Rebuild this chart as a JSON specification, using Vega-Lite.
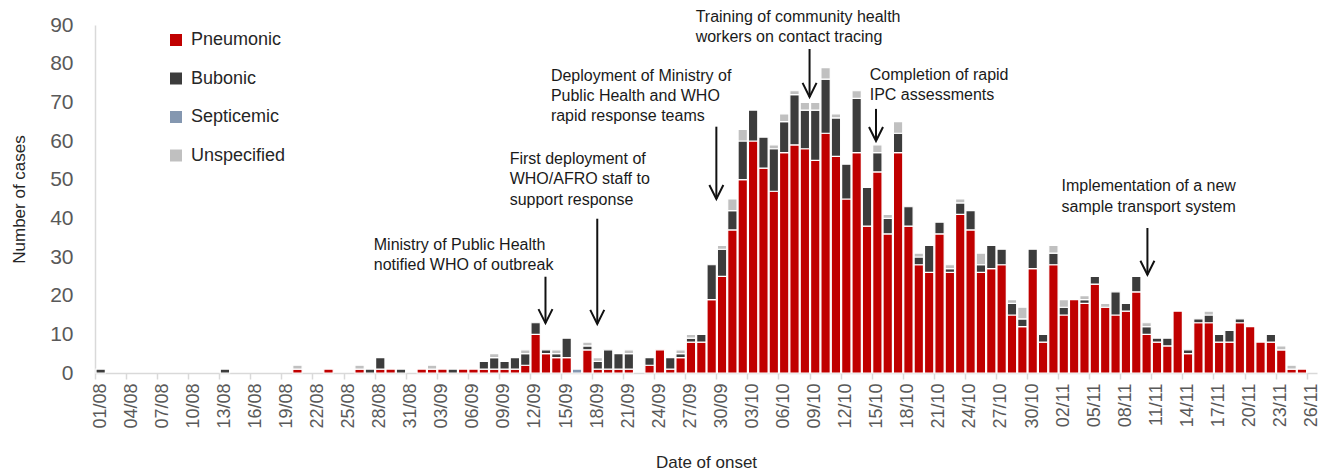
{
  "$schema": "https://vega.github.io/schema/vega-lite/v6.json",
  "width": 1222,
  "height": 348,
  "autosize": {"type": "none"},
  "padding": {"left": 95, "top": 25, "right": 22, "bottom": 103},
  "background": "white",
  "config": {
    "font": "Liberation Sans",
    "view": {"stroke": null}
  },
  "resolve": {"axis": {"x": "independent", "y": "independent"}},
  "layer": [
    {
      "data": {"values": [
        {"d":"2017-08-01","Bubonic":1},
        {"d":"2017-08-13","Bubonic":1},
        {"d":"2017-08-20","Pneumonic":1,"Unspecified":1},
        {"d":"2017-08-23","Pneumonic":1},
        {"d":"2017-08-26","Pneumonic":1,"Unspecified":1},
        {"d":"2017-08-27","Bubonic":1},
        {"d":"2017-08-28","Pneumonic":1,"Bubonic":3},
        {"d":"2017-08-29","Pneumonic":1},
        {"d":"2017-08-30","Bubonic":1},
        {"d":"2017-09-01","Pneumonic":1},
        {"d":"2017-09-02","Pneumonic":1,"Unspecified":1},
        {"d":"2017-09-03","Pneumonic":1},
        {"d":"2017-09-04","Bubonic":1},
        {"d":"2017-09-05","Pneumonic":1},
        {"d":"2017-09-06","Pneumonic":1},
        {"d":"2017-09-07","Pneumonic":1,"Bubonic":2},
        {"d":"2017-09-08","Pneumonic":1,"Bubonic":3,"Unspecified":1},
        {"d":"2017-09-09","Pneumonic":1,"Bubonic":2},
        {"d":"2017-09-10","Pneumonic":1,"Bubonic":3},
        {"d":"2017-09-11","Pneumonic":2,"Bubonic":3,"Unspecified":1},
        {"d":"2017-09-12","Pneumonic":10,"Bubonic":3},
        {"d":"2017-09-13","Pneumonic":5,"Bubonic":1},
        {"d":"2017-09-14","Pneumonic":4,"Bubonic":1,"Unspecified":1},
        {"d":"2017-09-15","Pneumonic":4,"Bubonic":5},
        {"d":"2017-09-16","Septicemic":1},
        {"d":"2017-09-17","Pneumonic":6,"Bubonic":1,"Unspecified":1},
        {"d":"2017-09-18","Pneumonic":1,"Bubonic":2,"Unspecified":1},
        {"d":"2017-09-19","Pneumonic":1,"Bubonic":5},
        {"d":"2017-09-20","Pneumonic":1,"Bubonic":4},
        {"d":"2017-09-21","Pneumonic":1,"Bubonic":4,"Unspecified":1},
        {"d":"2017-09-23","Pneumonic":2,"Bubonic":2},
        {"d":"2017-09-24","Pneumonic":6},
        {"d":"2017-09-25","Pneumonic":1,"Bubonic":3},
        {"d":"2017-09-26","Pneumonic":4,"Bubonic":1,"Unspecified":1},
        {"d":"2017-09-27","Pneumonic":8,"Bubonic":1,"Unspecified":1},
        {"d":"2017-09-28","Pneumonic":8,"Bubonic":2},
        {"d":"2017-09-29","Pneumonic":19,"Bubonic":9},
        {"d":"2017-09-30","Pneumonic":25,"Bubonic":7,"Unspecified":1},
        {"d":"2017-10-01","Pneumonic":37,"Bubonic":5,"Unspecified":3},
        {"d":"2017-10-02","Pneumonic":50,"Bubonic":10,"Unspecified":3},
        {"d":"2017-10-03","Pneumonic":60,"Bubonic":8},
        {"d":"2017-10-04","Pneumonic":53,"Bubonic":8},
        {"d":"2017-10-05","Pneumonic":47,"Bubonic":11,"Unspecified":1},
        {"d":"2017-10-06","Pneumonic":57,"Bubonic":8,"Unspecified":2},
        {"d":"2017-10-07","Pneumonic":59,"Bubonic":13,"Unspecified":1},
        {"d":"2017-10-08","Pneumonic":58,"Bubonic":10,"Unspecified":2},
        {"d":"2017-10-09","Pneumonic":55,"Bubonic":13,"Unspecified":2},
        {"d":"2017-10-10","Pneumonic":62,"Bubonic":14,"Unspecified":3},
        {"d":"2017-10-11","Pneumonic":56,"Bubonic":10,"Unspecified":1},
        {"d":"2017-10-12","Pneumonic":45,"Bubonic":9},
        {"d":"2017-10-13","Pneumonic":57,"Bubonic":14,"Unspecified":2},
        {"d":"2017-10-14","Pneumonic":38,"Bubonic":10},
        {"d":"2017-10-15","Pneumonic":52,"Bubonic":5,"Unspecified":2},
        {"d":"2017-10-16","Pneumonic":36,"Bubonic":4,"Unspecified":1},
        {"d":"2017-10-17","Pneumonic":57,"Bubonic":5,"Unspecified":3},
        {"d":"2017-10-18","Pneumonic":38,"Bubonic":5},
        {"d":"2017-10-19","Pneumonic":28,"Bubonic":2,"Unspecified":1},
        {"d":"2017-10-20","Pneumonic":26,"Bubonic":7},
        {"d":"2017-10-21","Pneumonic":36,"Bubonic":3},
        {"d":"2017-10-22","Pneumonic":26,"Bubonic":1,"Unspecified":1},
        {"d":"2017-10-23","Pneumonic":41,"Bubonic":3,"Unspecified":1},
        {"d":"2017-10-24","Pneumonic":37,"Bubonic":5},
        {"d":"2017-10-25","Pneumonic":26,"Bubonic":2,"Unspecified":3},
        {"d":"2017-10-26","Pneumonic":27,"Bubonic":6},
        {"d":"2017-10-27","Pneumonic":28,"Bubonic":4},
        {"d":"2017-10-28","Pneumonic":15,"Bubonic":3,"Unspecified":1},
        {"d":"2017-10-29","Pneumonic":12,"Bubonic":2,"Unspecified":3},
        {"d":"2017-10-30","Pneumonic":27,"Bubonic":5},
        {"d":"2017-10-31","Pneumonic":8,"Bubonic":2},
        {"d":"2017-11-01","Pneumonic":28,"Bubonic":3,"Unspecified":2},
        {"d":"2017-11-02","Pneumonic":15,"Bubonic":2,"Unspecified":2},
        {"d":"2017-11-03","Pneumonic":19},
        {"d":"2017-11-04","Pneumonic":18,"Bubonic":1,"Unspecified":1},
        {"d":"2017-11-05","Pneumonic":23,"Bubonic":2},
        {"d":"2017-11-06","Pneumonic":17,"Unspecified":1},
        {"d":"2017-11-07","Pneumonic":15,"Bubonic":6},
        {"d":"2017-11-08","Pneumonic":16,"Bubonic":2},
        {"d":"2017-11-09","Pneumonic":21,"Bubonic":4},
        {"d":"2017-11-10","Pneumonic":10,"Bubonic":2,"Unspecified":1},
        {"d":"2017-11-11","Pneumonic":8,"Bubonic":1},
        {"d":"2017-11-12","Pneumonic":7,"Bubonic":2},
        {"d":"2017-11-13","Pneumonic":16},
        {"d":"2017-11-14","Pneumonic":5,"Bubonic":1},
        {"d":"2017-11-15","Pneumonic":13,"Bubonic":1},
        {"d":"2017-11-16","Pneumonic":13,"Bubonic":2,"Unspecified":1},
        {"d":"2017-11-17","Pneumonic":8,"Bubonic":2},
        {"d":"2017-11-18","Pneumonic":8,"Bubonic":3},
        {"d":"2017-11-19","Pneumonic":13,"Bubonic":1},
        {"d":"2017-11-20","Pneumonic":12},
        {"d":"2017-11-21","Pneumonic":8},
        {"d":"2017-11-22","Pneumonic":8,"Bubonic":2},
        {"d":"2017-11-23","Pneumonic":6,"Unspecified":1},
        {"d":"2017-11-24","Pneumonic":1,"Unspecified":1},
        {"d":"2017-11-25","Pneumonic":1}
      ]},
      "transform": [
        {"fold": ["Pneumonic", "Bubonic", "Septicemic", "Unspecified"], "as": ["type", "n"]},
        {"filter": "datum.n > 0"},
        {"lookup": "type", "from": {"data": {"values": [
          {"type": "Pneumonic", "rank": 1},
          {"type": "Bubonic", "rank": 2},
          {"type": "Septicemic", "rank": 3},
          {"type": "Unspecified", "rank": 4}
        ]}, "key": "type", "fields": ["rank"]}}
      ],
      "mark": {"type": "bar", "stroke": "white", "strokeWidth": 1.2},
      "encoding": {
        "x": {
          "field": "d", "timeUnit": "utcyearmonthdate", "type": "temporal",
          "scale": {"type": "utc", "domain": [{"year": 2017, "month": 8, "date": 1, "utc": true}, {"year": 2017, "month": 11, "date": 27, "utc": true}], "nice": false},
          "axis": {
            "title": "Date of onset",
            "titleFontSize": 17, "titleFontWeight": "normal", "titleColor": "#262626", "titlePadding": 26,
            "labelExpr": "utcFormat(datum.value, '%d/%m')",
            "labelAngle": 270, "labelFontSize": 18, "labelColor": "#595959", "labelOffset": 5, "labelPadding": 4,
            "labelOverlap": false, "labelFlush": false, "labelBound": false,
            "domainColor": "#d9d9d9", "domainWidth": 1.5, "tickColor": "#d9d9d9", "tickSize": 6, "tickWidth": 1.5,
            "grid": false,
            "values": [
              {"year":2017,"month":8,"date":1,"utc":true},{"year":2017,"month":8,"date":4,"utc":true},{"year":2017,"month":8,"date":7,"utc":true},{"year":2017,"month":8,"date":10,"utc":true},{"year":2017,"month":8,"date":13,"utc":true},{"year":2017,"month":8,"date":16,"utc":true},{"year":2017,"month":8,"date":19,"utc":true},{"year":2017,"month":8,"date":22,"utc":true},{"year":2017,"month":8,"date":25,"utc":true},{"year":2017,"month":8,"date":28,"utc":true},{"year":2017,"month":8,"date":31,"utc":true},
              {"year":2017,"month":9,"date":3,"utc":true},{"year":2017,"month":9,"date":6,"utc":true},{"year":2017,"month":9,"date":9,"utc":true},{"year":2017,"month":9,"date":12,"utc":true},{"year":2017,"month":9,"date":15,"utc":true},{"year":2017,"month":9,"date":18,"utc":true},{"year":2017,"month":9,"date":21,"utc":true},{"year":2017,"month":9,"date":24,"utc":true},{"year":2017,"month":9,"date":27,"utc":true},{"year":2017,"month":9,"date":30,"utc":true},
              {"year":2017,"month":10,"date":3,"utc":true},{"year":2017,"month":10,"date":6,"utc":true},{"year":2017,"month":10,"date":9,"utc":true},{"year":2017,"month":10,"date":12,"utc":true},{"year":2017,"month":10,"date":15,"utc":true},{"year":2017,"month":10,"date":18,"utc":true},{"year":2017,"month":10,"date":21,"utc":true},{"year":2017,"month":10,"date":24,"utc":true},{"year":2017,"month":10,"date":27,"utc":true},{"year":2017,"month":10,"date":30,"utc":true},
              {"year":2017,"month":11,"date":2,"utc":true},{"year":2017,"month":11,"date":5,"utc":true},{"year":2017,"month":11,"date":8,"utc":true},{"year":2017,"month":11,"date":11,"utc":true},{"year":2017,"month":11,"date":14,"utc":true},{"year":2017,"month":11,"date":17,"utc":true},{"year":2017,"month":11,"date":20,"utc":true},{"year":2017,"month":11,"date":23,"utc":true},{"year":2017,"month":11,"date":26,"utc":true}
            ]
          }
        },
        "y": {
          "field": "n", "type": "quantitative", "stack": "zero",
          "scale": {"domain": [0, 90], "nice": false},
          "axis": {
            "title": "Number of cases", "titleFontSize": 17, "titleFontWeight": "normal", "titleColor": "#262626", "titlePadding": 21,
            "values": [0, 10, 20, 30, 40, 50, 60, 70, 80, 90],
            "labelFontSize": 21, "labelColor": "#595959", "labelPadding": 22,
            "ticks": false, "tickSize": 0, "grid": false,
            "domainColor": "#d9d9d9", "domainWidth": 1.5
          }
        },
        "order": {"field": "rank", "type": "quantitative", "sort": "ascending"},
        "color": {
          "field": "type", "type": "nominal",
          "scale": {"domain": ["Pneumonic", "Bubonic", "Septicemic", "Unspecified"], "range": ["#c00000", "#3c3c3c", "#8497b0", "#c0c0c0"]},
          "legend": {
            "orient": "none", "legendX": 72, "legendY": 6, "title": null, "padding": 0,
            "symbolType": "square", "symbolSize": 144, "symbolStrokeWidth": 0,
            "labelFontSize": 18, "labelColor": "#262626", "labelOffset": 6, "rowPadding": 20.5
          }
        }
      }
    },
    {
      "data": {"values": [
        {"x": "2017-08-27T22:00:00Z", "y": 31.86, "label": "Ministry of Public Health"},
        {"x": "2017-08-27T22:00:00Z", "y": 26.56, "label": "notified WHO of outbreak"},
        {"x": "2017-09-10T01:00:00Z", "y": 54.1, "label": "First deployment of"},
        {"x": "2017-09-10T01:00:00Z", "y": 48.8, "label": "WHO/AFRO staff to"},
        {"x": "2017-09-10T01:00:00Z", "y": 43.5, "label": "support response"},
        {"x": "2017-09-14T00:30:00Z", "y": 75.5, "label": "Deployment of Ministry of"},
        {"x": "2017-09-14T00:30:00Z", "y": 70.4, "label": "Public Health and WHO"},
        {"x": "2017-09-14T00:30:00Z", "y": 65.2, "label": "rapid response teams"},
        {"x": "2017-09-28T00:00:00Z", "y": 90.9, "label": "Training of community health"},
        {"x": "2017-09-28T00:00:00Z", "y": 85.7, "label": "workers on contact tracing"},
        {"x": "2017-10-14T19:30:00Z", "y": 75.7, "label": "Completion of rapid"},
        {"x": "2017-10-14T19:30:00Z", "y": 70.5, "label": "IPC assessments"},
        {"x": "2017-11-02T08:00:00Z", "y": 47.1, "label": "Implementation of a new"},
        {"x": "2017-11-02T08:00:00Z", "y": 41.7, "label": "sample transport system"}
      ]},
      "mark": {"type": "text", "align": "left", "baseline": "alphabetic", "fontSize": 16, "color": "#1a1a1a"},
      "encoding": {
        "x": {"field": "x", "type": "temporal", "axis": null},
        "y": {"field": "y", "type": "quantitative", "axis": null},
        "text": {"field": "label"}
      }
    },
    {
      "data": {"values": [
        {"x": "2017-09-13T12:00:00Z", "y": 24.9, "y2": 12.9},
        {"x": "2017-09-18T12:00:00Z", "y": 39.9, "y2": 12.7},
        {"x": "2017-09-30T00:00:00Z", "y": 63.7, "y2": 45.0},
        {"x": "2017-10-09T00:00:00Z", "y": 83.8, "y2": 71.4},
        {"x": "2017-10-15T10:00:00Z", "y": 68.3, "y2": 60.0},
        {"x": "2017-11-10T15:00:00Z", "y": 37.5, "y2": 25.4}
      ]},
      "mark": {"type": "rule", "color": "#111111", "strokeWidth": 2},
      "encoding": {
        "x": {"field": "x", "type": "temporal", "axis": null},
        "y": {"field": "y", "type": "quantitative", "axis": null},
        "y2": {"field": "y2"}
      }
    },
    {
      "data": {"values": [
        {"x": "2017-09-13T12:00:00Z", "y2": 12.9},
        {"x": "2017-09-18T12:00:00Z", "y2": 12.7},
        {"x": "2017-09-30T00:00:00Z", "y2": 45.0},
        {"x": "2017-10-09T00:00:00Z", "y2": 71.4},
        {"x": "2017-10-15T10:00:00Z", "y2": 60.0},
        {"x": "2017-11-10T15:00:00Z", "y2": 25.4}
      ]},
      "mark": {"type": "point", "shape": "M-1,-2L0,0L1,-2", "size": 196, "filled": false, "stroke": "#111111", "strokeWidth": 2, "opacity": 1},
      "encoding": {
        "x": {"field": "x", "type": "temporal", "axis": null},
        "y": {"field": "y2", "type": "quantitative", "axis": null}
      }
    }
  ]
}
